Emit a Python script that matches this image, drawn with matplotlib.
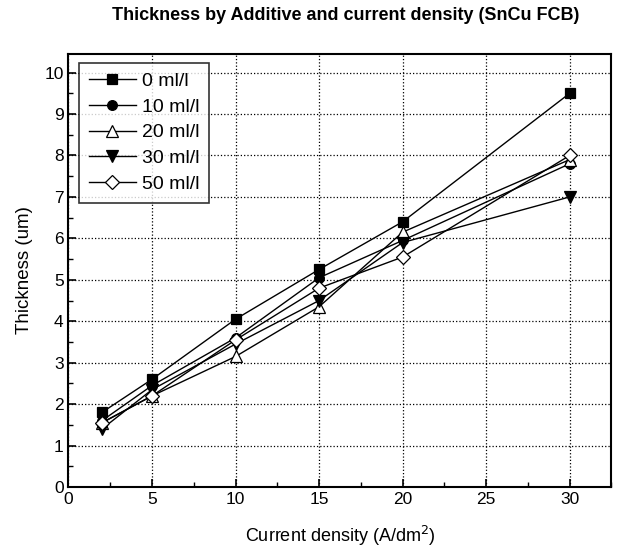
import matplotlib
matplotlib.use('Agg')
import matplotlib.pyplot as plt
from matplotlib.ticker import MultipleLocator

plt.rcParams['font.family'] = ['Liberation Sans', 'DejaVu Sans']

# current density (A/dm2)
density = [2, 5, 10, 15, 20, 30]

# thickness (um) per additive amount
t_0 = [1.8, 2.6, 4.05, 5.25, 6.4, 9.5]
t_10 = [1.6, 2.45, 3.6, 5.05, 5.95, 7.8]
t_20 = [1.55, 2.2, 3.15, 4.35, 6.15, 7.9]
t_30 = [1.4, 2.35, 3.45, 4.5, 5.9, 7.0]
t_50 = [1.55, 2.2, 3.55, 4.8, 5.55, 8.0]

labels = ['0 ml/l', '10 ml/l', '20 ml/l', '30 ml/l', '50 ml/l']
series = [t_0, t_10, t_20, t_30, t_50]
markers = ['s', 'o', '^', 'v', 'D']
faces = ['black', 'black', 'white', 'black', 'white']
msizes = [7, 7, 8, 9, 7]

fig = plt.figure(figsize=(6.17, 5.56), dpi=100)
ax = fig.add_axes([0.111, 0.124, 0.880, 0.779])

for s, lab, m, fc, ms in zip(series, labels, markers, faces, msizes):
    ax.plot(density, s, color='black', lw=1.0, marker=m, markersize=ms,
            markerfacecolor=fc, markeredgecolor='black', markeredgewidth=0.9,
            label=lab)

ax.set_xlim(0, 32.5)
ax.set_ylim(0, 10.45)
ax.xaxis.set_major_locator(MultipleLocator(5))
ax.xaxis.set_minor_locator(MultipleLocator(2.5))
ax.yaxis.set_major_locator(MultipleLocator(1))
ax.yaxis.set_minor_locator(MultipleLocator(0.5))
ax.tick_params(which='both', direction='in', labelsize=12.5)
ax.tick_params(which='major', length=6, width=1.2)
ax.tick_params(which='minor', length=3.5, width=1.0)
ax.grid(True, which='major', linestyle=':', color='black', lw=0.9)
for sp in ax.spines.values():
    sp.set_linewidth(1.5)

ax.set_xlabel('Current density (A/dm$^2$)', fontsize=13, labelpad=12)
ax.set_ylabel('Thickness (um)', fontsize=13.5, labelpad=8)
fig.suptitle('Thickness by Additive and current density (SnCu FCB)',
             fontsize=13, fontweight='bold', x=0.56, y=0.988)

leg = ax.legend(loc='upper left', bbox_to_anchor=(0.02, 0.98), fontsize=14,
                frameon=True, fancybox=False, edgecolor='black',
                handlelength=2.4, handletextpad=0.3, borderpad=0.5,
                labelspacing=0.42, borderaxespad=0)
leg.get_frame().set_linewidth(1.2)

fig.savefig('out.png', dpi=100)
